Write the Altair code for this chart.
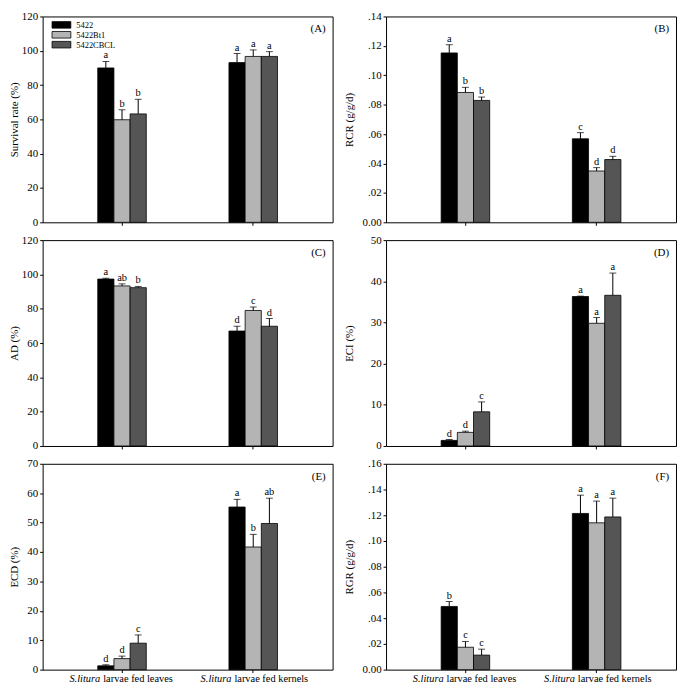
import altair as alt
import pandas as pd

FONT = "Liberation Serif"

categories = ["leaves", "kernels"]
label_italic = ["S.litura", "S.litura"]
label_rest = ["larvae fed leaves", "larvae fed kernels"]
series = ["5422", "5422Bt1", "5422CBCL"]
colors = ["#000000", "#b4b4b4", "#555555"]

# order: leaves(5422, Bt1, CBCL), kernels(5422, Bt1, CBCL)
surv_mean = [90.0, 59.8, 63.2, 93.1, 96.7, 96.7]
surv_err = [93.8, 65.6, 71.7, 98.4, 100.5, 99.5]
surv_let = ["a", "b", "b", "a", "a", "a"]

rcr_mean = [0.1152, 0.0883, 0.0829, 0.0568, 0.0349, 0.0427]
rcr_err = [0.1208, 0.0918, 0.0852, 0.0610, 0.0372, 0.0449]
rcr_let = ["a", "b", "b", "c", "d", "d"]

ad_mean = [97.3, 93.3, 92.3, 67.0, 79.0, 69.8]
ad_err = [97.8, 94.5, 93.0, 69.8, 81.0, 74.3]
ad_let = ["a", "ab", "b", "d", "c", "d"]

eci_mean = [1.35, 3.3, 8.3, 36.3, 29.8, 36.6]
eci_err = [1.55, 3.6, 10.7, 36.4, 31.2, 42.0]
eci_let = ["d", "d", "c", "a", "a", "a"]

ecd_mean = [1.3, 3.75, 9.0, 55.3, 41.7, 49.7]
ecd_err = [1.65, 4.6, 11.8, 57.9, 46.0, 58.3]
ecd_let = ["d", "d", "c", "a", "b", "ab"]

rgr_mean = [0.0491, 0.0174, 0.0113, 0.1214, 0.1141, 0.1187]
rgr_err = [0.0529, 0.0219, 0.0159, 0.1356, 0.1310, 0.1333]
rgr_let = ["b", "c", "c", "a", "a", "a"]

W, H = 293, 208
DEC_EXPR = "datum.value == 0 ? '0.00' : replace(format(datum.value, '.2f'), '0.', '.')"


def panel(tag, title, means, errs, letters, ymax, step, decimal, bottom, legend, left):
    rows = []
    k = 0
    for c in categories:
        for s in series:
            rows.append({"cat": c, "series": s, "mean": means[k], "err": errs[k], "letter": letters[k]})
            k += 1
    df = pd.DataFrame(rows)

    xscale = alt.Scale(domain=categories, paddingInner=0.63, paddingOuter=0.42)
    xaxis = alt.Axis(title=None, labels=False, ticks=True, tickSize=3, tickColor="black", domain=False, grid=False)
    x = alt.X("cat:N", scale=xscale, axis=xaxis, sort=categories)
    xo = alt.XOffset("series:N", scale=alt.Scale(domain=series, paddingInner=0, paddingOuter=0), sort=series)

    n = int(round(ymax / step))
    vals = [round(i * step, 4) for i in range(n + 1)]
    ax_kw = dict(title=title, values=vals, tickSize=3, tickColor="black", domain=False, grid=False,
                 labelPadding=2, titlePadding=2 if left else 5,
                 minExtent=21 if left else 27, maxExtent=21 if left else 27)
    if decimal:
        ax_kw["labelExpr"] = DEC_EXPR
    else:
        ax_kw["format"] = "d"
    yaxis = alt.Axis(**ax_kw)
    yscale = alt.Scale(domain=[0, ymax], nice=False, zero=True)

    color = alt.Color("series:N", scale=alt.Scale(domain=series, range=colors), sort=series, legend=legend)

    base = alt.Chart(df)
    bars = base.mark_bar(stroke="black", strokeWidth=0.8).encode(
        x=x, xOffset=xo, y=alt.Y("mean:Q", scale=yscale, axis=yaxis), color=color)
    rule = base.mark_rule(color="black", strokeWidth=1).encode(
        x=x, xOffset=xo, y=alt.Y("mean:Q", scale=yscale, axis=yaxis), y2="err:Q")
    cap = base.mark_tick(color="black", size=7, thickness=1, orient="horizontal").encode(
        x=x, xOffset=xo, y=alt.Y("err:Q", scale=yscale, axis=yaxis))
    txt = base.mark_text(baseline="bottom", dy=-1, font=FONT, fontSize=10.5, color="black").encode(
        x=x, xOffset=xo, y=alt.Y("err:Q", scale=yscale, axis=yaxis), text="letter:N")
    tagt = alt.Chart(pd.DataFrame({"t": [tag]})).mark_text(
        align="right", baseline="top", font=FONT, fontSize=11, color="black").encode(
        x=alt.value(W - 7), y=alt.value(7), text="t:N")
    layers = [bars, rule, cap, txt, tagt]
    if bottom:
        ldf = pd.DataFrame({"cat": categories, "it": label_italic, "rest": label_rest})
        lb = alt.Chart(ldf)
        it = lb.mark_text(align="right", baseline="top", dx=-22, font=FONT, fontSize=10.5,
                          fontStyle="italic", color="black").encode(
            x=x, y=alt.value(H + 4), text="it:N")
        rest = lb.mark_text(align="left", baseline="top", dx=-19, font=FONT, fontSize=10.5,
                            color="black").encode(
            x=x, y=alt.value(H + 4), text="rest:N")
        layers += [it, rest]
    return alt.layer(*layers).properties(width=W, height=H)


legend_a = alt.Legend(orient="none", legendX=14.5, legendY=4, title=None,
                      symbolType="M-2.375,-0.83H2.375V0.83H-2.375Z", symbolSize=64,
                      symbolStrokeColor="black", symbolStrokeWidth=0.8,
                      labelFont=FONT, labelFontSize=8.5, labelOffset=10.5,
                      rowPadding=-2, padding=0)

pA = panel("(A)", "Survival rate (%)", surv_mean, surv_err, surv_let, 120, 20, False, False, legend_a, True)
pB = panel("(B)", "RCR (g/g/d)", rcr_mean, rcr_err, rcr_let, 0.14, 0.02, True, False, None, False)
pC = panel("(C)", "AD (%)", ad_mean, ad_err, ad_let, 120, 20, False, False, None, True)
pD = panel("(D)", "ECI (%)", eci_mean, eci_err, eci_let, 50, 10, False, False, None, False)
pE = panel("(E)", "ECD (%)", ecd_mean, ecd_err, ecd_let, 70, 10, False, True, None, True)
pF = panel("(F)", "RGR (g/g/d)", rgr_mean, rgr_err, rgr_let, 0.16, 0.02, True, True, None, False)

chart = alt.concat(pA, pB, pC, pD, pE, pF, columns=2, spacing={"row": 5, "column": 9}).resolve_scale(
    color="independent", y="independent", x="independent"
).properties(
    padding={"left": 0, "top": -2, "right": 0, "bottom": 0},
    background="white",
).configure_view(stroke="black", strokeWidth=1).configure_axis(
    labelFont=FONT, titleFont=FONT, labelFontSize=11, titleFontSize=11,
    titleFontWeight="normal", labelColor="black", titleColor="black",
).configure_text(font=FONT)

chart.save("out.html", embed_options={"renderer": "svg", "actions": False})
